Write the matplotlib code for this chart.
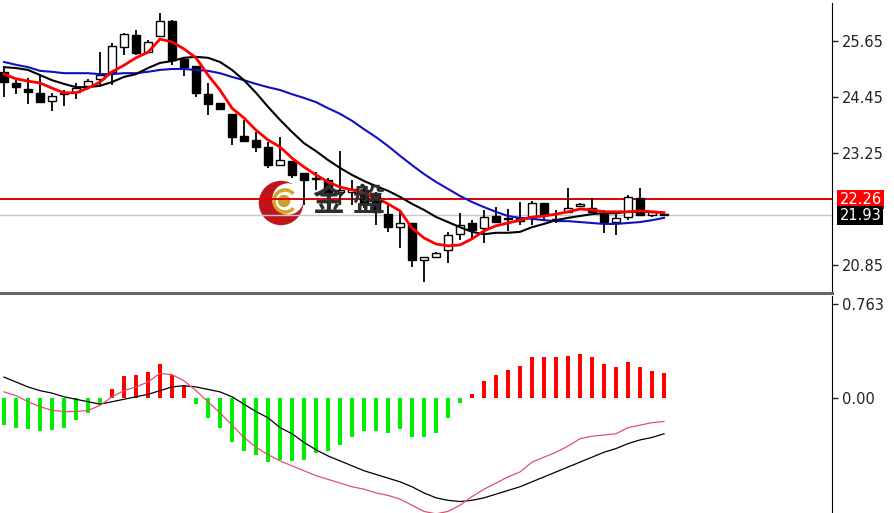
import matplotlib
matplotlib.use('Agg')
import matplotlib.pyplot as plt
import matplotlib.transforms as mtransforms
from matplotlib.patches import Circle, Arc
import numpy as np

# candle data
opens = [24.99, 24.75, 24.62, 24.54, 24.36, 24.51, 24.56, 24.69, 24.84, 24.99,
         25.52, 25.78, 25.41, 25.76, 26.08, 25.26, 25.11, 24.51, 24.32, 24.09,
         23.61, 23.53, 23.38, 22.99, 23.08, 22.82, 22.70, 22.67, 22.42, 22.41,
         22.45, 22.35, 21.94, 21.66, 21.75, 20.96, 21.03, 21.17, 21.51, 21.75,
         21.64, 21.90, 21.86, 21.86, 21.88, 22.18, 21.81, 21.99, 22.11, 22.07,
         21.97, 21.77, 21.88, 22.29, 21.92, 21.95]
highs = [25.09, 24.86, 24.86, 24.90, 24.54, 24.60, 24.75, 24.84, 25.41, 25.61,
         25.82, 25.89, 25.67, 26.25, 26.10, 25.31, 25.11, 24.75, 24.32, 24.09,
         23.96, 23.70, 23.49, 23.59, 23.08, 22.82, 22.84, 22.71, 23.29, 22.67,
         22.56, 22.41, 22.14, 21.99, 21.75, 21.02, 21.13, 21.56, 21.96, 21.82,
         22.03, 22.09, 22.05, 22.20, 22.22, 22.18, 22.03, 22.50, 22.18, 22.29,
         22.03, 21.97, 22.35, 22.50, 21.99, 21.97]
lows = [24.45, 24.51, 24.30, 24.34, 24.15, 24.26, 24.41, 24.66, 24.66, 24.71,
        25.35, 25.35, 25.39, 25.74, 25.14, 24.90, 24.45, 24.06, 24.19, 23.42,
        23.51, 23.27, 22.93, 22.99, 22.71, 22.14, 22.46, 22.30, 22.14, 22.14,
        22.08, 21.71, 21.56, 21.21, 20.81, 20.49, 21.03, 20.89, 21.39, 21.43,
        21.32, 21.75, 21.58, 21.71, 21.71, 21.81, 21.75, 21.97, 22.09, 21.95,
        21.54, 21.49, 21.81, 21.92, 21.88, 21.90]
closes = [24.77, 24.66, 24.56, 24.34, 24.47, 24.53, 24.64, 24.79, 24.92, 25.54,
          25.80, 25.39, 25.63, 26.08, 25.24, 25.09, 24.54, 24.30, 24.19, 23.59,
          23.51, 23.38, 22.99, 23.10, 22.78, 22.67, 22.72, 22.34, 22.46, 22.48,
          22.18, 21.98, 21.66, 21.75, 20.96, 21.02, 21.11, 21.49, 21.71, 21.60,
          21.88, 21.77, 21.84, 21.80, 22.18, 21.92, 21.84, 22.07, 22.16, 21.99,
          21.77, 21.86, 22.31, 21.92, 21.99, 21.93]

# moving averages as drawn on the chart
ma_red = [24.94, 24.84, 24.79, 24.75, 24.64, 24.54, 24.54, 24.64, 24.77, 24.99,
          25.13, 25.29, 25.41, 25.69, 25.63, 25.48, 25.29, 24.92, 24.60, 24.21,
          24.00, 23.74, 23.53, 23.38, 23.14, 22.95, 22.78, 22.63, 22.52, 22.46,
          22.39, 22.29, 22.16, 22.01, 21.64, 21.43, 21.30, 21.26, 21.28, 21.41,
          21.58, 21.69, 21.75, 21.81, 21.88, 21.90, 21.94, 21.99, 22.05, 22.03,
          21.99, 21.99, 21.99, 22.01, 21.99, 21.97]
ma_black = [25.09, 25.07, 25.03, 24.92, 24.81, 24.73, 24.66, 24.66, 24.69, 24.77,
            24.88, 24.94, 25.07, 25.18, 25.22, 25.29, 25.31, 25.29, 25.20, 25.03,
            24.81, 24.54, 24.24, 23.96, 23.70, 23.46, 23.29, 23.10, 22.93, 22.78,
            22.65, 22.54, 22.44, 22.31, 22.16, 22.03, 21.88, 21.77, 21.66, 21.56,
            21.51, 21.54, 21.54, 21.56, 21.66, 21.73, 21.81, 21.86, 21.90, 21.94,
            21.96, 21.96, 21.99, 21.99, 21.99, 21.97]
ma_blue = [25.20, 25.14, 25.09, 25.01, 24.99, 24.96, 24.96, 24.96, 24.94, 24.94,
           24.96, 24.96, 24.99, 25.03, 25.05, 25.05, 25.03, 25.01, 24.96, 24.88,
           24.81, 24.73, 24.66, 24.60, 24.51, 24.43, 24.34, 24.21, 24.09, 23.94,
           23.76, 23.59, 23.40, 23.19, 22.99, 22.80, 22.63, 22.48, 22.33, 22.20,
           22.09, 21.99, 21.90, 21.86, 21.84, 21.81, 21.79, 21.79, 21.77, 21.75,
           21.73, 21.73, 21.75, 21.77, 21.81, 21.86]

# MACD panel
macd_hist = [-0.22, -0.24, -0.25, -0.27, -0.26, -0.24, -0.18, -0.12, -0.05, 0.07,
             0.18, 0.19, 0.21, 0.28, 0.19, 0.10, -0.05, -0.16, -0.24, -0.36,
             -0.43, -0.46, -0.52, -0.50, -0.51, -0.50, -0.45, -0.43, -0.38, -0.32,
             -0.27, -0.27, -0.28, -0.25, -0.32, -0.32, -0.28, -0.16, -0.04, 0.03,
             0.14, 0.19, 0.23, 0.26, 0.33, 0.33, 0.33, 0.34, 0.36, 0.33,
             0.28, 0.25, 0.29, 0.25, 0.22, 0.20]
macd_black = [0.17, 0.13, 0.09, 0.06, 0.04, 0.01, -0.01, -0.03, -0.05, -0.03,
              -0.01, 0.01, 0.03, 0.06, 0.09, 0.10, 0.09, 0.07, 0.05, 0.01,
              -0.05, -0.11, -0.16, -0.24, -0.29, -0.36, -0.42, -0.47, -0.51, -0.55,
              -0.59, -0.62, -0.65, -0.68, -0.72, -0.77, -0.81, -0.83, -0.84, -0.83,
              -0.81, -0.78, -0.75, -0.72, -0.68, -0.64, -0.60, -0.56, -0.52, -0.48,
              -0.44, -0.41, -0.37, -0.34, -0.32, -0.29]
macd_pink = [0.05, 0.02, -0.03, -0.07, -0.10, -0.11, -0.11, -0.10, -0.06, 0.01,
             0.06, 0.09, 0.13, 0.20, 0.19, 0.14, 0.06, -0.03, -0.12, -0.22,
             -0.32, -0.40, -0.46, -0.51, -0.55, -0.59, -0.63, -0.66, -0.69, -0.72,
             -0.74, -0.77, -0.79, -0.82, -0.87, -0.92, -0.94, -0.92, -0.87, -0.80,
             -0.74, -0.69, -0.64, -0.60, -0.52, -0.48, -0.44, -0.39, -0.33, -0.31,
             -0.30, -0.29, -0.24, -0.22, -0.20, -0.19]

price_ticks = [25.65, 24.45, 23.25, 20.85]
macd_ticks = [0.763, 0.0]
macd_tick_labels = ['0.763', '0.00']
resistance = 22.26
last_price = 21.93

W, H = 895, 513
fig = plt.figure(figsize=(W / 100, H / 100), dpi=100)
fig.patch.set_facecolor('white')

# watermark logo below the chart, pixel coordinates
wm = fig.add_axes([0, 0, 1, 1], zorder=0)
wm.set_xlim(0, W)
wm.set_ylim(H, 0)
wm.axis('off')
wm.add_patch(Circle((281, 203), 21.5, color='#c0141c'))
wm.add_patch(Circle((288, 199), 15, color='white'))
wm.add_patch(Arc((285, 201), 22, 22, theta1=40, theta2=320, color='#d6a324', lw=2.5))
wm.add_patch(Circle((284, 201), 5.5, color='#c9a227'))

# watermark text above the chart
wt = fig.add_axes([0, 0, 1, 1], zorder=3)
wt.set_xlim(0, W)
wt.set_ylim(H, 0)
wt.axis('off')
wt.patch.set_alpha(0)
for ch, cx in (('金', 328), ('盤', 368)):
    wt.text(cx, 202, ch, fontsize=23, color='#2e2e2e', fontweight='bold',
            family=['Noto Sans CJK TC', 'DejaVu Sans'], ha='center', va='center')

ax_w = 832 / W
ax = fig.add_axes([0, 1 - 293 / H, ax_w, 290 / H], zorder=1)
ax2 = fig.add_axes([0, 0, ax_w, 217 / H], zorder=1)
for a in (ax, ax2):
    a.patch.set_alpha(0)
    a.set_xlim(-1 / 3, 69)
    a.set_xticks([])
    a.yaxis.tick_right()
    a.tick_params(axis='y', length=4, width=1, labelsize=10.5, pad=3, colors='#222222')
    for s in ('left', 'top'):
        a.spines[s].set_visible(False)
    a.spines['right'].set_color('black')

x = np.arange(len(opens))

# horizontal price lines
ax.axhline(last_price, color='#c8c8c8', lw=1, zorder=1)
ax.axhline(resistance, color='#e00000', lw=1.4, zorder=1)

# candles
bw = 0.6
for i in x:
    o, h, l, c = opens[i], highs[i], lows[i], closes[i]
    ax.vlines(i, l, h, color='black', lw=1.3, zorder=2)
    up = c >= o
    ax.bar(i, abs(c - o) if abs(c - o) > 0.02 else 0.02, bottom=min(o, c), width=bw,
           color='white' if up else 'black', edgecolor='black', lw=1, zorder=3)

ax.plot(x, ma_blue, color='#1010c0', lw=1.5, zorder=4)
ax.plot(x, ma_black, color='black', lw=1.5, zorder=4)
ax.plot(x, ma_red, color='#ff0000', lw=2, zorder=5)

ax.set_ylim(20.25, 26.464)
ax.set_yticks(price_ticks)
ax.set_yticklabels([f'{v:.2f}' for v in price_ticks])
ax.spines['bottom'].set_color('#666666')
ax.spines['bottom'].set_linewidth(2.2)

trans = mtransforms.blended_transform_factory(ax.transAxes, ax.transData)
ax.text(1.009, resistance, f'{resistance:.2f}', transform=trans, ha='left', va='center',
        fontsize=10.5, color='white',
        bbox=dict(boxstyle='square,pad=0.15', fc='#ff0000', ec='none'))
ax.text(1.009, last_price - 0.02, f'{last_price:.2f}', transform=trans, ha='left', va='center',
        fontsize=10.5, color='white',
        bbox=dict(boxstyle='square,pad=0.15', fc='black', ec='none'))

# MACD
hist_colors = ['#ff0000' if v > 0 else '#00ee00' for v in macd_hist]
ax2.bar(x, macd_hist, width=0.33, color=hist_colors, zorder=2)
ax2.plot(x, macd_black, color='black', lw=0.9, zorder=3)
ax2.plot(x, macd_pink, color='#e0506e', lw=0.9, zorder=3)
ax2.set_ylim(-0.933, 0.828)
ax2.set_yticks(macd_ticks)
ax2.set_yticklabels(macd_tick_labels)
ax2.spines['bottom'].set_visible(False)

fig.savefig('out.png', dpi=100)
